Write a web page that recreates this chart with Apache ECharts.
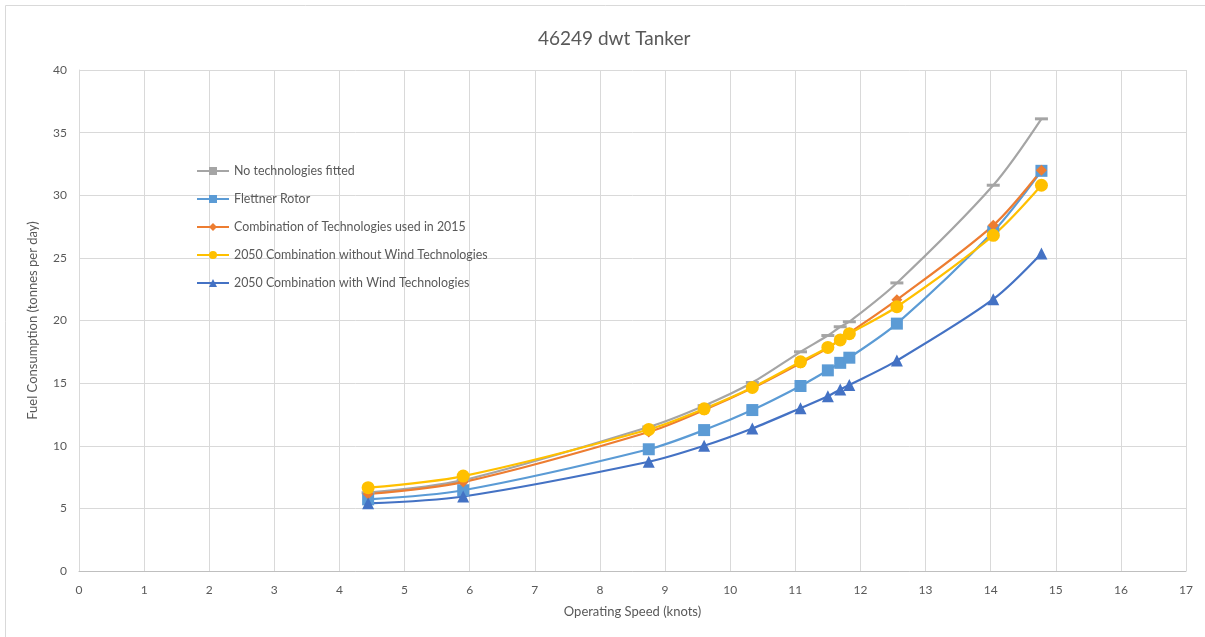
<!DOCTYPE html>
<html>
<head>
<meta charset="utf-8">
<script src="https://cdn.jsdelivr.net/npm/echarts@6/dist/echarts.min.js"></script>
<style>
html,body{margin:0;padding:0;background:#fff;}
#c{width:1205px;height:637px;}
</style>
</head>
<body>
<div id="c"></div>
<script>
const speeds = [4.44, 5.9, 8.75, 9.6, 10.34, 11.08, 11.5, 11.69, 11.83, 12.56, 14.04, 14.78];
const noTech = [6.25, 7.25, 11.5, 13.2, 15.05, 17.5, 18.8, 19.5, 19.9, 23.0, 30.8, 36.1];
const flettner = [5.72, 6.45, 9.72, 11.25, 12.85, 14.77, 16.02, 16.62, 17.03, 19.75, 27.1, 31.95];
const combo2015 = [6.15, 7.1, 11.1, 12.85, 14.6, 16.6, 17.8, 18.5, 19.0, 21.65, 27.6, 32.0];
const noWind2050 = [6.65, 7.58, 11.3, 12.95, 14.65, 16.7, 17.85, 18.45, 18.95, 21.1, 26.8, 30.8];
const wind2050 = [5.4, 5.95, 8.72, 10.0, 11.38, 13.0, 13.95, 14.5, 14.85, 16.8, 21.7, 25.35];
const seriesNames = ['No technologies fitted', 'Flettner Rotor', 'Combination of Technologies used in 2015', '2050 Combination without Wind Technologies', '2050 Combination with Wind Technologies'];
const xTicks = [0, 17, 1];
const yTicks = [0, 40, 5];

const FONT = 'Lato';
const TXT = '#595959';
function pts(ys){ return speeds.map((s,i)=>[s, ys[i]]); }
function mk(name, ys, color, symbol, size){
  return {
    name: name, type: 'line', data: pts(ys), smooth: 0.3,
    symbol: symbol, symbolSize: size, showAllSymbol: true,
    lineStyle: {color: color, width: 2.2},
    itemStyle: {color: color},
    emphasis: {disabled: true}
  };
}
const chart = echarts.init(document.getElementById('c'), null, {renderer: 'canvas'});
chart.setOption({
  animation: false,
  textStyle: {fontFamily: FONT},
  graphic: [{type: 'rect', shape: {x: 5.5, y: 5.5, width: 1400, height: 1000}, style: {fill: 'none', stroke: '#D9D9D9', lineWidth: 1}, silent: true}],
  title: {text: '46249 dwt Tanker', left: 533, top: 24, textStyle: {fontFamily: FONT, fontSize: 19, fontWeight: 'normal', color: TXT}},
  legend: {
    orient: 'vertical', left: 191, top: 160, itemWidth: 32, itemHeight: 10, itemGap: 16,
    textStyle: {fontFamily: FONT, fontSize: 12.4, color: TXT},
    data: seriesNames
  },
  grid: {left: 79, right: 19, top: 70, bottom: 66, containLabel: false},
  xAxis: {
    type: 'value', min: xTicks[0], max: xTicks[1], interval: xTicks[2],
    name: 'Operating Speed (knots)', nameLocation: 'middle', nameGap: 34,
    nameTextStyle: {fontFamily: FONT, fontSize: 13, color: TXT},
    axisLine: {show: true, lineStyle: {color: '#BFBFBF', width: 1}},
    axisTick: {show: false},
    axisLabel: {fontFamily: FONT, fontSize: 12, color: TXT, margin: 13},
    splitLine: {show: true, lineStyle: {color: '#D9D9D9', width: 1}}
  },
  yAxis: {
    type: 'value', min: yTicks[0], max: yTicks[1], interval: yTicks[2],
    name: 'Fuel Consumption (tonnes per day)', nameLocation: 'middle', nameGap: 40,
    nameTextStyle: {fontFamily: FONT, fontSize: 13, color: TXT},
    axisLine: {show: true, lineStyle: {color: '#D9D9D9', width: 1}},
    axisTick: {show: false},
    axisLabel: {fontFamily: FONT, fontSize: 12, color: TXT, margin: 12},
    splitLine: {show: true, lineStyle: {color: '#D9D9D9', width: 1}}
  },
  series: [
    mk(seriesNames[0], noTech, '#A5A5A5', 'rect', [13, 3]),
    mk(seriesNames[1], flettner, '#5B9BD5', 'rect', 12),
    mk(seriesNames[2], combo2015, '#ED7D31', 'diamond', 11),
    mk(seriesNames[3], noWind2050, '#FFC000', 'circle', 13),
    mk(seriesNames[4], wind2050, '#4472C4', 'triangle', 12)
  ]
});
</script>
</body>
</html>
